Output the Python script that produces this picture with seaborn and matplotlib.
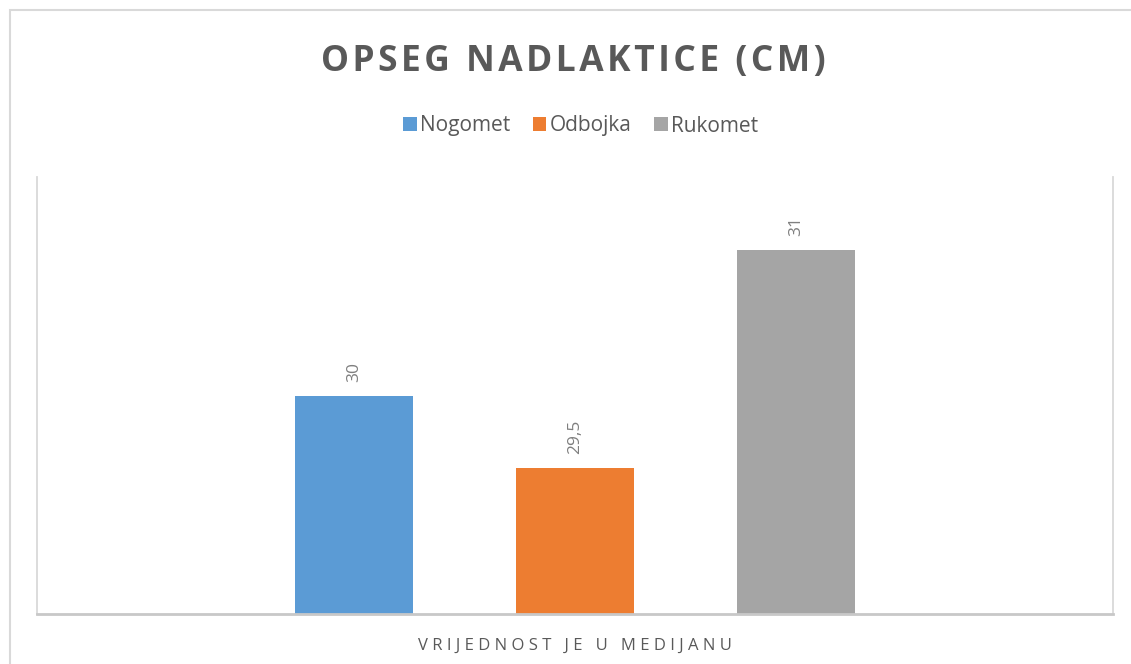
import matplotlib
matplotlib.use("Agg")
import matplotlib.pyplot as plt
import seaborn as sns
import pandas as pd
from matplotlib.patches import Rectangle

# Data
categories = ["Nogomet", "Odbojka", "Rukomet"]
values = [30, 29.5, 31]
group_label = ["VRIJEDNOST JE U MEDIJANU"]
colors = ["#5B9BD5", "#ED7D31", "#A5A5A5"]
title = "OPSEG NADLAKTICE (CM)"


def spaced(s, sep):
    """Emulate letter spacing with narrow spaces."""
    return sep.join(s)


df = pd.DataFrame({"group": [spaced(group_label[0], "\u2009\u200a")] * len(categories),
                   "sport": categories,
                   "value": values})

sns.set_theme(style="white")
plt.rcParams["font.family"] = ["Open Sans", "DejaVu Sans"]

fig = plt.figure(figsize=(11.31, 6.64), dpi=100)
ax = fig.add_axes([37 / 1131, 50 / 664, (1113 - 37) / 1131, (614 - 177) / 664])

sns.barplot(data=df, x="group", y="value", hue="sport", hue_order=categories,
            palette=colors, width=0.8, gap=0.47, saturation=1, ax=ax,
            edgecolor="none", linewidth=0)

ax.set_ylim(28.5, 31.5)
ax.set_xlim(-0.649, 0.649)
ax.set_yticks([])
ax.set_xlabel("")
ax.set_ylabel("")
ax.tick_params(axis="x", length=0, pad=17, labelsize=12, colors="#595959")
for lab in ax.get_xticklabels():
    lab.set_color("#595959")

for s in ["left", "right", "bottom"]:
    ax.spines[s].set_color("#d9d9d9")
    ax.spines[s].set_linewidth(1.3)
ax.spines["bottom"].set_color("#c8c8c8")
ax.spines["bottom"].set_linewidth(2)
ax.spines["top"].set_visible(False)

for cont in ax.containers:
    labs = [f"{v:g}".replace(".", ",") for v in cont.datavalues]
    ax.bar_label(cont, labels=labs, rotation=90, padding=10,
                 fontsize=12.5, color="#7f7f7f")

handles, labels = ax.get_legend_handles_labels()
if ax.legend_ is not None:
    ax.legend_.remove()
fig.legend(handles, labels, loc="center", bbox_to_anchor=(0.5133, 1 - 126 / 664),
           ncol=3, frameon=False, fontsize=15, handlelength=0.65, handleheight=0.65,
           handletextpad=0.15, columnspacing=1.1, labelcolor="#595959")

fig.text(573 / 1131, 1 - 62 / 664, spaced(title, "\u200a"), ha="center", va="center",
         fontsize=25.5, fontweight="bold", color="#595959")

# outer chart border
fig.patches.append(Rectangle((10 / 1131, -0.1), 1.2, 1 - 10 / 664 + 0.1,
                             transform=fig.transFigure, fill=False,
                             edgecolor="#d9d9d9", linewidth=1.5))

fig.savefig("out.png", dpi=100, facecolor="white")
